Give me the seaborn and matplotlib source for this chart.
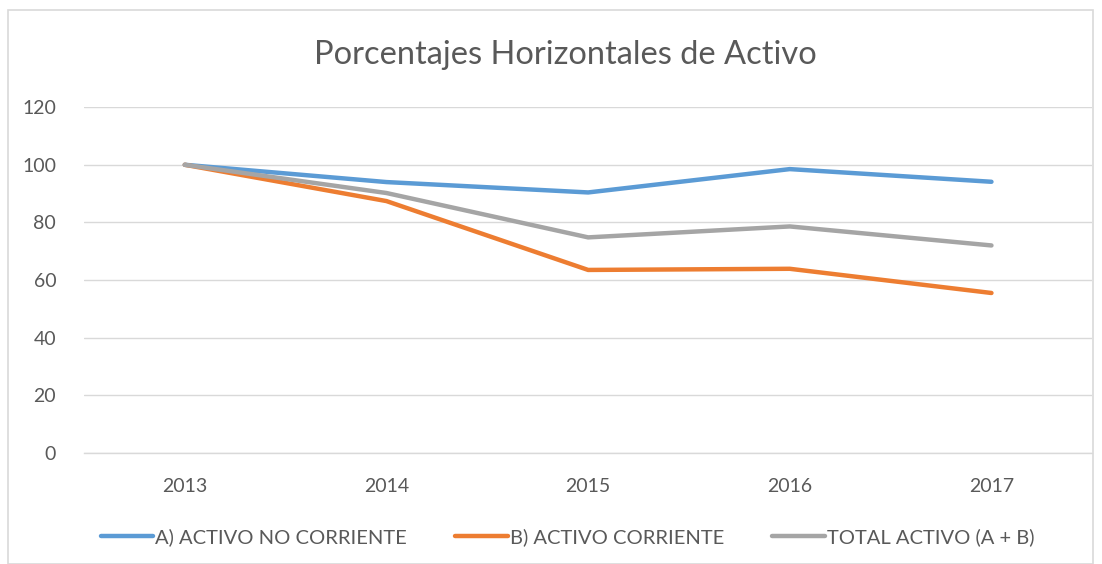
import pandas as pd
import matplotlib.pyplot as plt
import seaborn as sns
from matplotlib.patches import Rectangle

# Data
years = ['2013', '2014', '2015', '2016', '2017']
activo_no_corriente = [100, 94.0, 90.4, 98.5, 94.1]
activo_corriente = [100, 87.4, 63.5, 63.9, 55.5]
total_activo = [100, 90.2, 74.8, 78.6, 72.0]
series_names = ['A) ACTIVO NO CORRIENTE', 'B) ACTIVO CORRIENTE', 'TOTAL ACTIVO (A + B)']
colors = ['#5B9BD5', '#ED7D31', '#A5A5A5']

df = pd.DataFrame({
    'year': years * 3,
    'value': activo_no_corriente + activo_corriente + total_activo,
    'serie': [n for n in series_names for _ in years],
})

sns.set_theme(style='white')
plt.rcParams['font.family'] = ['Lato', 'DejaVu Sans']

fig = plt.figure(figsize=(11.02, 5.64), dpi=100)
ax = fig.add_axes([0.0762, 0.197, 0.915, 0.613])

sns.lineplot(data=df, x='year', y='value', hue='serie', palette=colors,
             linewidth=3.2, sort=False, ax=ax, legend=False)

ax.set_xlim(-0.5, 4.5)
ax.set_ylim(0, 120)
ax.set_yticks(range(0, 121, 20))
ax.yaxis.grid(True, color='#D9D9D9', linewidth=1)
ax.set_axisbelow(True)
for s in ['left', 'right', 'top']:
    ax.spines[s].set_visible(False)
ax.spines['bottom'].set_color('#D9D9D9')
ax.spines['bottom'].set_linewidth(1)
ax.tick_params(axis='both', length=0, labelsize=14, colors='#595959')
ax.tick_params(axis='x', pad=18)
ax.tick_params(axis='y', pad=20)
ax.set_xlabel('')
ax.set_ylabel('')

fig.text(0.513, 1 - 55 / 564, 'Porcentajes Horizontales de Activo',
         ha='center', va='center', fontsize=23.5, color='#595959')

handles = [plt.Line2D([], [], color=c, linewidth=3.2) for c in colors]
fig.legend(handles, series_names, loc='center', bbox_to_anchor=(0.515, 1 - 537 / 564),
           ncol=3, frameon=False, fontsize=14.5, handlelength=2.6, handletextpad=0.1,
           columnspacing=2.4, labelcolor='#595959')

# chart border
fig.patches.append(Rectangle((8 / 1102, 0), (1093 - 8) / 1102, 1 - 10 / 564,
                             transform=fig.transFigure, fill=False,
                             edgecolor='#D9D9D9', linewidth=1.2))

fig.savefig('out.png', dpi=100)
